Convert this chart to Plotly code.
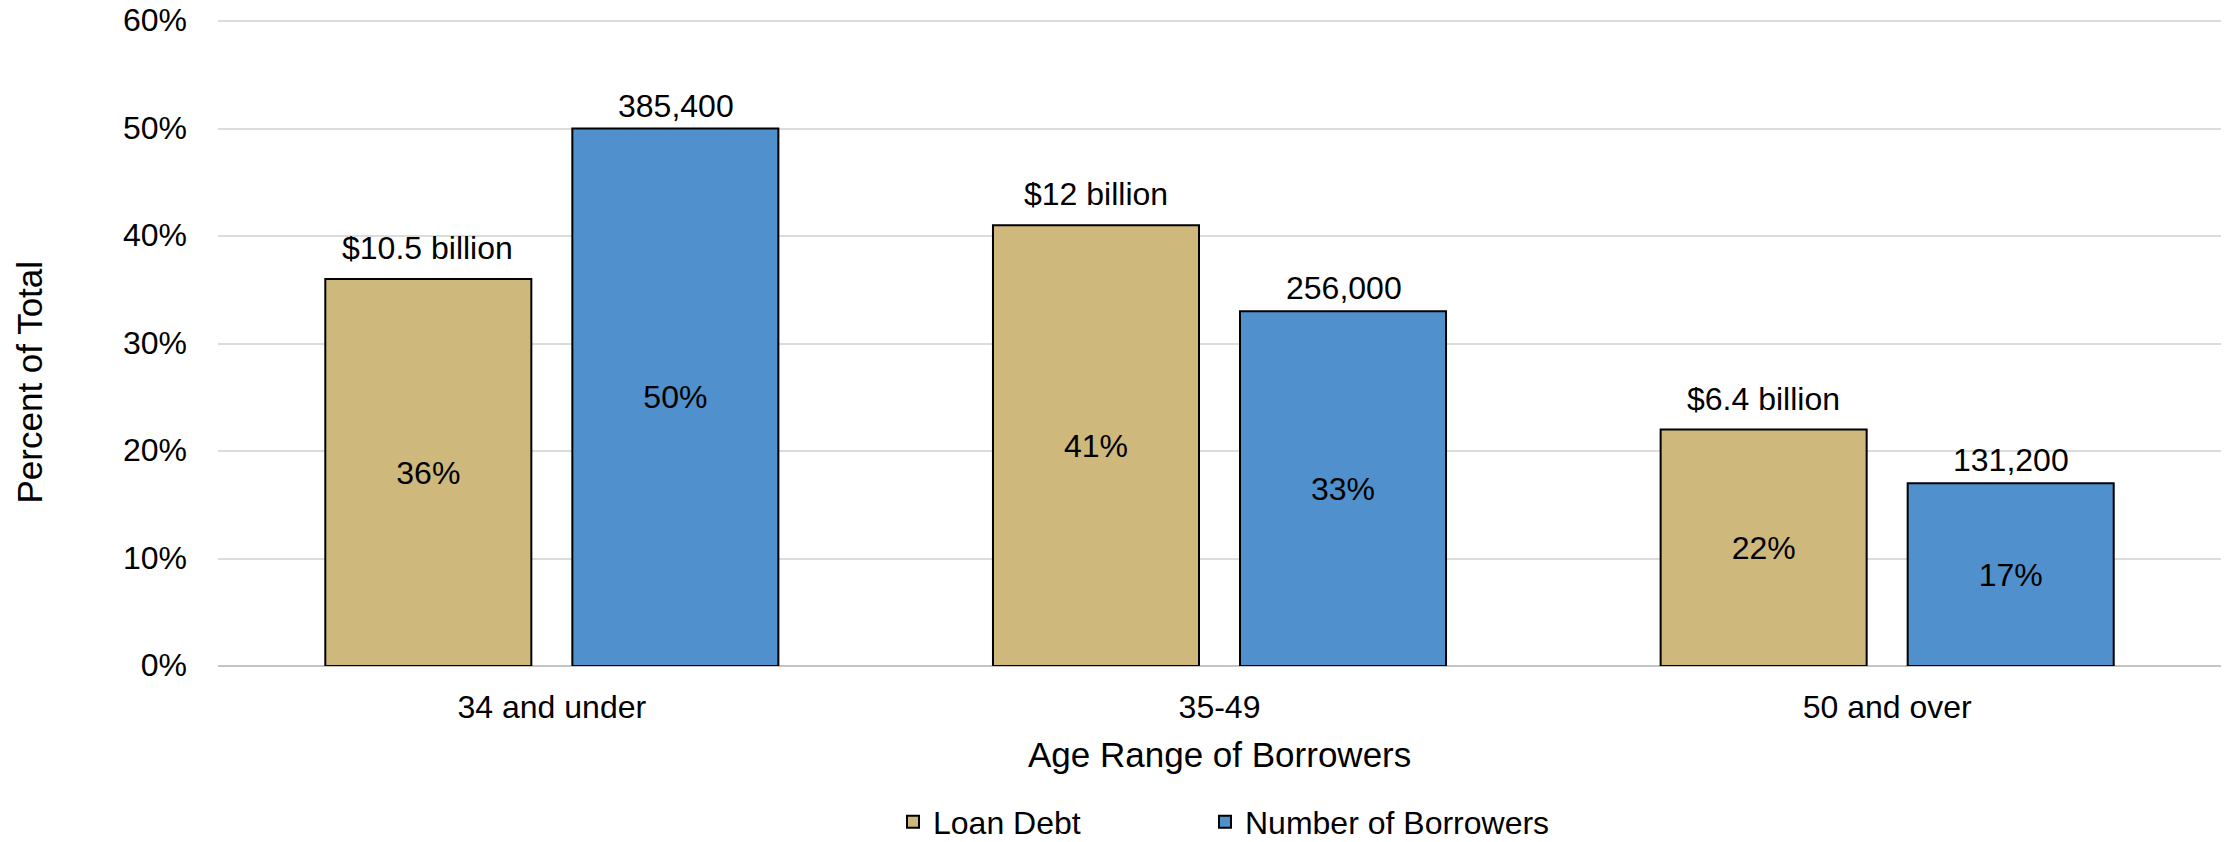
import plotly.graph_objects as go

categories = ["34 and under", "35-49", "50 and over"]
loan_debt_pct = [36, 41, 22]
borrowers_pct = [50, 33, 17]
loan_debt_labels = ["$10.5 billion", "$12 billion", "$6.4 billion"]
borrowers_labels = ["385,400", "256,000", "131,200"]
y_ticks = [0, 10, 20, 30, 40, 50, 60]

FONT = "Liberation Sans, Arial, Helvetica, sans-serif"
TAN = "#CEB87C"
BLUE = "#5090CC"

W, H = 2227, 842
ML, MR, MT, MB = 218, 6, 19, 176
PW = W - ML - MR
PH = H - MT - MB

def px_x(x):
    return (x - ML) / PW

def px_y(y):
    return (H - MB - y) / PH

fig = go.Figure()
fig.add_trace(go.Bar(
    name="Loan Debt", x=categories, y=loan_debt_pct, legend="legend",
    marker=dict(color=TAN, line=dict(color="#000000", width=2)),
    text=[f"{v}%" for v in loan_debt_pct], textposition="inside",
    insidetextanchor="middle", textangle=0, constraintext="none",
    textfont=dict(size=32, color="#000000", family=FONT),
    hoverinfo="skip",
))
fig.add_trace(go.Bar(
    name="Number of Borrowers", x=categories, y=borrowers_pct, legend="legend2",
    marker=dict(color=BLUE, line=dict(color="#000000", width=2)),
    text=[f"{v}%" for v in borrowers_pct], textposition="inside",
    insidetextanchor="middle", textangle=0, constraintext="none",
    textfont=dict(size=32, color="#000000", family=FONT),
    hoverinfo="skip",
))

annotations = []
for c, v, t in zip(categories, loan_debt_pct, loan_debt_labels):
    annotations.append(dict(x=c, y=v, xref="x", yref="y", text=t, showarrow=False,
                            xshift=-124, yshift=31, yanchor="middle",
                            font=dict(size=32, color="#000000", family=FONT)))
for c, v, t in zip(categories, borrowers_pct, borrowers_labels):
    annotations.append(dict(x=c, y=v, xref="x", yref="y", text=t, showarrow=False,
                            xshift=124, yshift=23, yanchor="middle",
                            font=dict(size=32, color="#000000", family=FONT)))
annotations.append(dict(text="Percent of Total", xref="paper", yref="paper",
                        x=px_x(28.5), y=px_y(382), textangle=-90, showarrow=False,
                        xanchor="center", yanchor="middle",
                        font=dict(size=35, color="#000000", family=FONT)))
annotations.append(dict(text="Age Range of Borrowers", xref="paper", yref="paper",
                        x=0.5, y=px_y(754), showarrow=False,
                        xanchor="center", yanchor="middle",
                        font=dict(size=35, color="#000000", family=FONT)))

legend_common = dict(orientation="h", xanchor="left", xref="container", yref="container",
                     y=(H - 822) / H, yanchor="middle",
                     font=dict(size=32, color="#000000", family=FONT),
                     bgcolor="rgba(0,0,0,0)", itemclick=False, itemdoubleclick=False)

fig.update_layout(
    width=W, height=H,
    margin=dict(l=ML, r=MR, t=MT, b=MB, pad=0, autoexpand=False),
    paper_bgcolor="#FFFFFF", plot_bgcolor="#FFFFFF",
    barmode="group", bargap=0.26, bargroupgap=0.166,
    font=dict(family=FONT, size=32, color="#000000"),
    showlegend=True,
    legend=dict(x=893 / W, **legend_common),
    legend2=dict(x=1205 / W, **legend_common),
    annotations=annotations,
    xaxis=dict(showgrid=False, showline=False, zeroline=False, ticks="",
               ticklabelstandoff=19, tickfont=dict(size=32, color="#000000", family=FONT),
               fixedrange=True, automargin=False),
    yaxis=dict(range=[0, 60.2], tickvals=y_ticks, ticktext=[f"{v}%" for v in y_ticks],
               showgrid=True, gridcolor="#DCDCDC", gridwidth=2,
               zeroline=True, zerolinecolor="#C4C4C4", zerolinewidth=2,
               showline=False, ticks="", ticklabelstandoff=30, ticklabelshift=-1,
               tickfont=dict(size=32, color="#000000", family=FONT), fixedrange=True,
               automargin=False),
)

fig.write_html("out.html", config={"displayModeBar": False})
